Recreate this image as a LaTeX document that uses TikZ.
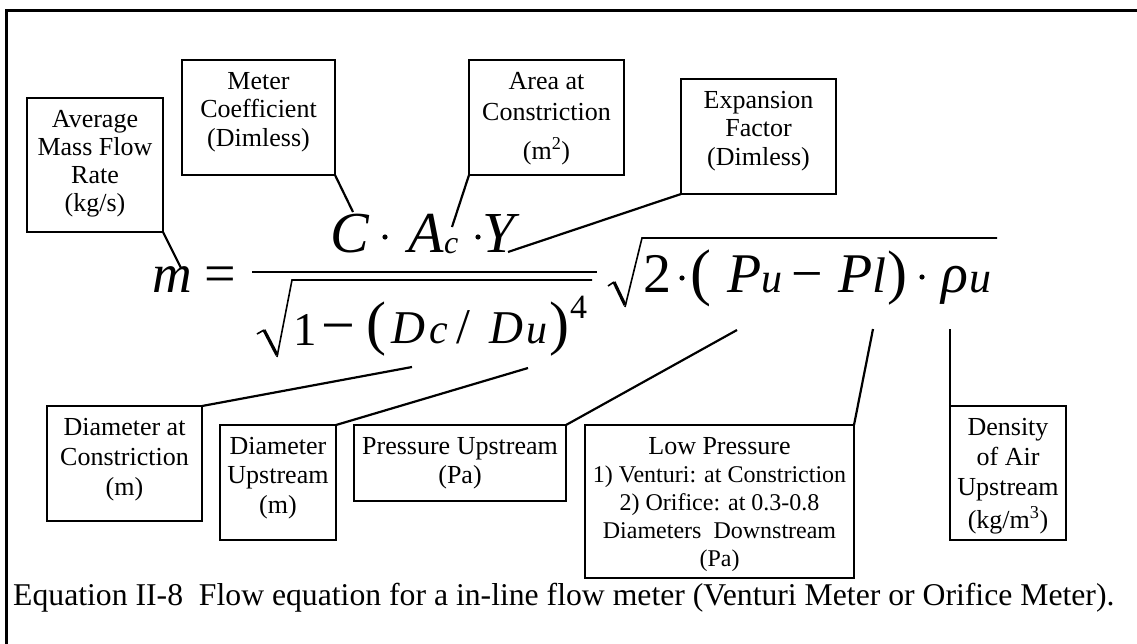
\documentclass[tikz,border=0pt]{standalone}
\usepackage{fontspec}
\setmainfont{Liberation Serif}
\newcommand{\tagbody}[3]{\parbox[t][#2][t]{#1}{\centering\rule{0pt}{29pt}#3}}
\begin{document}
\begin{tikzpicture}[x=1pt,y=-1pt,
  tag/.style={draw,line width=2.2pt,inner sep=0pt,outer sep=0pt,anchor=north west,
    font=\fontsize{26}{29.5}\selectfont},
  lead/.style={line width=2.2pt},
  eqit/.style={anchor=base west,inner sep=0pt,font=\itshape\fontsize{#1}{#1}\selectfont},
  eqrm/.style={anchor=base west,inner sep=0pt,font=\fontsize{#1}{#1}\selectfont}]
  \useasboundingbox (0,0) rectangle (1137,643);
  \draw[line width=3pt] (6.5,10.5) rectangle (1150,660);

  % left side and numerator
  \node[eqit=55] (m) at (152,292) {m};
  \node[eqrm=56] (eq) at (204,292) {=};
  \node[eqit=58] (C) at (330,252) {C};
  \fill (385,237) circle (2.6pt);
  \node[eqit=58] (A) at (408,252) {A};
  \node[eqit=32] (Ac) at (444,253) {c};
  \fill (478,237) circle (2.6pt);
  \node[eqit=58] (Y) at (482,252) {Y};
  \draw[line width=2.2pt] (252,272) -- (597,272);

  % denominator
  \draw[line width=1.6pt] (257,334) -- (264,330);
  \draw[line width=3.2pt] (264,330) -- (277,355);
  \draw[line width=1.6pt] (277,357) -- (292,280) -- (592,280);
  \node[eqrm=47] (one) at (293,345) {1};
  \node[eqrm=60] (mn1) at (321,345) {−};
  \node[eqrm=60] (lp1) at (366,343) {(};
  \node[eqit=47] (Dc) at (391,343) {D};
  \node[eqit=42] (c) at (429,343) {c};
  \node[eqrm=50] (sl) at (456,343) {/};
  \node[eqit=47] (Du) at (489,343) {D};
  \node[eqit=42] (u1) at (526,343) {u};
  \node[eqrm=60] (rp1) at (549,343) {)};
  \node[eqrm=34] (four) at (570,318) {4};

  % square root on the right
  \draw[line width=1.6pt] (608,286) -- (614,282);
  \draw[line width=3.2pt] (614,282) -- (625,305);
  \draw[line width=1.6pt] (625,307) -- (642,238) -- (997,238);
  \node[eqrm=56] (two) at (643,292) {2};
  \fill (682,278) circle (2.6pt);
  \node[eqrm=63] (lp2) at (690,293) {(};
  \node[eqit=56] (Pu) at (727,292) {P};
  \node[eqit=42] (u2) at (761,292) {u};
  \node[eqrm=56] (mn2) at (791,292) {−};
  \node[eqit=56] (Pl) at (838,292) {P};
  \node[eqit=50] (l) at (872,292) {l};
  \node[eqrm=60] (rp2) at (887,292) {)};
  \fill (922,277) circle (2.6pt);
  \node[eqit=56] (rho) at (941,292) {ρ};
  \node[eqit=44] (u3) at (969,292) {u};

  % labels
  \node[tag,font=\fontsize{26}{28.3}\selectfont] (avg) at (27,98)
    {\tagbody{136pt}{134pt}{Average\\Mass Flow\\Rate\\(kg/s)}};
  \node[tag,font=\fontsize{26}{28.5}\selectfont] (coef) at (182,60)
    {\tagbody{153pt}{115pt}{Meter\\Coefficient\\(Dimless)}};
  \node[tag,font=\fontsize{26}{31}\selectfont] (area) at (469,60)
    {\tagbody{155pt}{115pt}{Area at\\Constriction\\[8pt](m\textsuperscript{2})}};
  \node[tag,font=\fontsize{26}{28.5}\selectfont] (expn) at (681,79)
    {\tagbody{155pt}{115pt}{Expansion\\Factor\\(Dimless)}};
  \node[tag,font=\fontsize{26}{30}\selectfont] (dcon) at (47,406)
    {\tagbody{155pt}{115pt}{Diameter at\\Constriction\\(m)}};
  \node[tag] (dup) at (220,425)
    {\tagbody{116pt}{115pt}{Diameter\\Upstream\\(m)}};
  \node[tag,font=\fontsize{26}{29}\selectfont] (pup) at (354,425)
    {\tagbody{212pt}{76pt}{Pressure Upstream\\(Pa)}};
  \node[tag,font=\fontsize{26}{28}\selectfont] (plow) at (585,425)
    {\tagbody{269pt}{153pt}{Low Pressure\\\fontsize{24}{28}\selectfont
      1) Venturi: at Constriction\\2) Orifice: at 0.3-0.8\\Diameters\ \ Downstream\\(Pa)}};
  \node[tag,font=\fontsize{26}{30}\selectfont] (dens) at (950,406)
    {\tagbody{116pt}{134pt}{Density\\of Air\\Upstream\\[3pt](kg/m\textsuperscript{3})}};

  \coordinate (avg-end) at (181,268);
  \coordinate (coef-end) at (353,212);
  \coordinate (area-end) at (452,227);
  \coordinate (expn-end) at (508,252);
  \coordinate (dcon-end) at (412,367);
  \coordinate (dup-end) at (528,368);
  \coordinate (pup-end) at (737,330);
  \coordinate (plow-end) at (873,329);
  \coordinate (dens-end) at (950,329);
  \draw[lead] (avg.south east) -- (avg-end);
  \draw[lead] (coef.south east) -- (coef-end);
  \draw[lead] (area.south west) -- (area-end);
  \draw[lead] (expn.south west) -- (expn-end);
  \draw[lead] (dcon.north east) -- (dcon-end);
  \draw[lead] (dup.north east) -- (dup-end);
  \draw[lead] (pup.north east) -- (pup-end);
  \draw[lead] (plow.north east) -- (plow-end);
  \draw[lead] (dens.north west) -- (dens-end);

  \node[eqrm=31.7] (cap) at (13,605)
    {Equation II-8\ \ Flow equation for a in-line flow meter (Venturi Meter or Orifice Meter).};
\end{tikzpicture}
\end{document}
